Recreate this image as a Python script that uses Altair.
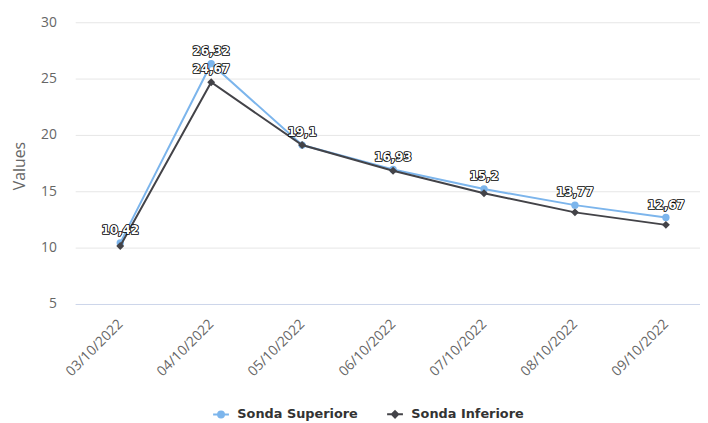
import altair as alt
import pandas as pd

dates = ["03/10/2022", "04/10/2022", "05/10/2022", "06/10/2022",
         "07/10/2022", "08/10/2022", "09/10/2022"]
sup_values = [10.42, 26.32, 19.1, 16.93, 15.2, 13.77, 12.67]
inf_values = [10.15, 24.67, 19.1, 16.82, 14.83, 13.13, 12.02]
inf_label_shown = [False, True, False, False, False, False, False]
series_names = ["Sonda Superiore", "Sonda Inferiore"]
series_colors = ["#7cb5ec", "#434348"]
y_ticks = [5, 10, 15, 20, 25, 30]

# legend symbols: a short line with a (stroked, concentric = solid) marker
_circle = "".join("M{r},0A{r},{r} 0 1,1 -{r},0A{r},{r} 0 1,1 {r},0Z".format(r=r)
                  for r in (0.25, 0.5, 0.75))
_diamond = "".join("M0,-{r}L{r},0L0,{r}L-{r},0Z".format(r=r) for r in (0.25, 0.55, 0.8))
legend_paths = ["M-2,0H2" + _circle, "M-2,0H2" + _diamond]


def fmt(v):
    return ("%g" % v).replace(".", ",")


rows = []
for i, d in enumerate(dates):
    rows.append(dict(date=d, series=series_names[0], value=sup_values[i],
                     label=fmt(sup_values[i]), show=True))
    rows.append(dict(date=d, series=series_names[1], value=inf_values[i],
                     label=fmt(inf_values[i]), show=inf_label_shown[i]))
df = pd.DataFrame(rows)

x = alt.X(
    "date:N", sort=dates,
    scale=alt.Scale(type="point", padding=0.435, align=0.569),
    axis=alt.Axis(title=None, labelAngle=-45, labelFont="Open Sans", labelFontSize=14,
                  labelColor="#666666", ticks=False, domain=True, domainColor="#ccd6eb",
                  domainWidth=1, labelPadding=13, labelOffset=-5, labelAlign="right",
                  labelBaseline="top", grid=False),
)
y = alt.Y(
    "value:Q",
    scale=alt.Scale(domain=[5, 30], nice=False, zero=False),
    axis=alt.Axis(values=y_ticks, title="Values", titleFont="Open Sans", titleFontSize=16,
                  titleFontWeight="normal", titleColor="#666666", titleX=-56, titleY=145,
                  titleAngle=-90, titleBaseline="middle", titleAlign="center",
                  labelFont="Open Sans", labelFontSize=14, labelColor="#666666",
                  labelPadding=19, ticks=False, domain=False, grid=True,
                  gridColor="#e6e6e6", gridWidth=1),
)

base = alt.Chart(df)
layers = []
shapes = ["circle", "diamond"]
sizes = [55, 64]
for name, col, shp, sz in zip(series_names, series_colors, shapes, sizes):
    sel = base.transform_filter(alt.datum.series == name)
    layers.append(sel.mark_line(color=col, strokeWidth=2).encode(x=x, y=y))
    layers.append(sel.mark_point(filled=True, shape=shp, size=sz, color=col, opacity=1).encode(x=x, y=y))

labels = base.transform_filter(alt.datum.show == True)
layers.append(labels.mark_text(font="DejaVu Sans", fontSize=12, fontWeight="bold", dy=-9,
                               baseline="alphabetic", align="center", stroke="#000000",
                               strokeWidth=1.7, fill="#000000", strokeJoin="round")
              .encode(x=x, y=y, text="label:N"))
layers.append(labels.mark_text(font="DejaVu Sans", fontSize=12, fontWeight="bold", dy=-9,
                               baseline="alphabetic", align="center", fill="#ffffff")
              .encode(x=x, y=y, text="label:N"))

leg = alt.Legend(orient="none", legendX=141, legendY=390, direction="horizontal", title=None,
                 labelFont="DejaVu Sans", labelFontSize=13, labelFontWeight="bold",
                 labelColor="#333333", symbolSize=64, symbolStrokeWidth=2, labelOffset=10,
                 columnPadding=25, padding=0)
legend_layer = base.transform_filter("false").mark_point(filled=False, strokeWidth=2, opacity=1).encode(
    color=alt.Color("series:N", scale=alt.Scale(domain=series_names, range=series_colors), legend=leg),
    shape=alt.Shape("series:N", scale=alt.Scale(domain=series_names, range=legend_paths), legend=leg),
)
layers.append(legend_layer)

chart = alt.layer(*layers).properties(
    width=632, height=285,
    autosize=alt.AutoSizeParams(type="none"),
    padding={"left": 68, "top": 12, "right": 0, "bottom": 118},
    background="white",
).configure_view(stroke=None)

chart.save("out.html", embed_options={"renderer": "svg", "actions": False})
